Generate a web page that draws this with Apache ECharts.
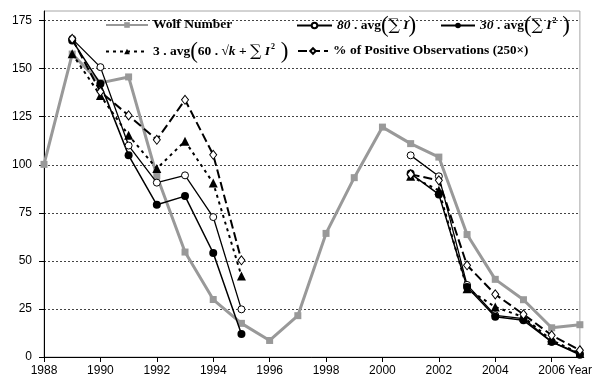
<!DOCTYPE html>
<html>
<head>
<meta charset="utf-8">
<script src="https://cdn.jsdelivr.net/npm/echarts@6/dist/echarts.min.js"></script>
<style>
html,body{margin:0;padding:0;background:#fff;}
#c{width:595px;height:379px;}
</style>
</head>
<body>
<div id="c"></div>
<script>
const years = [1988,1989,1990,1991,1992,1993,1994,1995,1996,1997,1998,1999,2000,2001,2002,2003,2004,2005,2006,2007];
const wolf =   [100.2,157.6,142.6,145.7,94.3,54.6,29.9,17.5,8.6,21.5,64.3,93.3,119.6,111.0,104.0,63.7,40.4,29.8,15.2,16.8];
const avgI80 = [null,165.5,150.8,110,90.7,94.5,72.8,24.8,null,null,null,null,null,104.9,94.0,37.5,21.7,20.0,7.9,1.8];
const avgI2_30=[null,164.7,142.1,104.9,79.2,83.7,54.1,12.0,null,null,null,null,null,95.4,84.6,36.4,20.9,19.1,7.9,1.2];
const avgK3 =  [null,157.7,136.0,115.3,98.0,112.3,90.5,42.2,null,null,null,null,null,94.0,86.7,35.5,26.0,20.8,8.7,1.8];
const posObs = [null,165.5,138,125.7,113.0,133.8,105.2,50.3,null,null,null,null,null,95.0,91.9,47.7,32.6,22.2,11.3,3.5];
const xLabelValues = [1988,1990,1992,1994,1996,1998,2000,2002,2004,2006,2007];
const xTickValues = [1988,1990,1992,1994,1996,1998,2000,2002,2004,2006];
const yTickValues = [0,25,50,75,100,125,150,175];

const names = ['Wolf Number','80 . avg(\u2211 I)','30 . avg(\u2211 I\u00B2)','3 . avg(60 . \u221Ak + \u2211 I\u00B2)','% of Positive Observations (250\u00D7)'];
const legendText = {};
legendText[names[0]] = '{b|Wolf Number}';
legendText[names[1]] = '{bi|80}{b| . avg}{p|(}{s|\u2211}{bi| I}{p|)}';
legendText[names[2]] = '{bi|30}{b| . avg}{p|(}{s|\u2211}{bi| I}{sup|2}{p| )}';
legendText[names[3]] = '{b|3 . avg}{p|(}{b|60 . \u221A}{bi|k}{b| + }{s|\u2211}{bi| I}{sup|2}{p| )}';
legendText[names[4]] = '{b|% of Positive Observations }{n|(250\u00D7)}';

const rich = {
  b:{fontFamily:'Liberation Serif',fontWeight:'bold',fontSize:13.5,color:'#000'},
  bi:{fontFamily:'Liberation Serif',fontWeight:'bold',fontStyle:'italic',fontSize:13.5,color:'#000'},
  n:{fontFamily:'Liberation Serif',fontWeight:'bold',fontSize:13,color:'#000'},
  p:{fontFamily:'Liberation Serif',fontSize:23,color:'#000'},
  s:{fontFamily:'DejaVu Serif',fontSize:16,color:'#000'},
  sup:{fontFamily:'Liberation Serif',fontWeight:'bold',fontSize:8,color:'#000',verticalAlign:'top',padding:[2,0,0,1]}
};

function pairs(vals){ return years.map((y,i)=>[y, vals[i]]); }

function mkLegend(name,left,top,w){
  return {data:[name],left:left,top:top,itemWidth:w,itemHeight:7,itemGap:0,padding:0,
    formatter:(n)=>legendText[n],textStyle:{rich:rich,lineHeight:22}};
}

const chart = echarts.init(document.getElementById('c'),null,{renderer:'canvas'});
chart.setOption({
  animation:false,
  backgroundColor:'#fff',
  grid:{left:44,right:14,top:11,bottom:22,show:true,borderColor:'#a6a6a6',borderWidth:1,backgroundColor:'transparent'},
  legend:[
    mkLegend(names[0],105,14,42),
    mkLegend(names[1],296,14,35),
    mkLegend(names[2],440,14,34),
    mkLegend(names[3],105,40,42),
    mkLegend(names[4],297,40,30)
  ],
  xAxis:{type:'value',min:1988,max:2007,interval:1,
    axisLine:{lineStyle:{color:'#000',width:1}},
    axisTick:{customValues:xTickValues,length:5,lineStyle:{color:'#000'}},
    axisLabel:{customValues:xLabelValues,margin:8,color:'#000',fontFamily:'Liberation Sans',fontSize:12,
      formatter:(v)=> v===2007 ? 'Year' : String(v)},
    splitLine:{show:false}},
  yAxis:{type:'value',min:0,max:180,interval:25,
    axisLine:{show:true,lineStyle:{color:'#000',width:1}},
    axisTick:{show:true,customValues:yTickValues,length:5,lineStyle:{color:'#000'}},
    axisLabel:{customValues:yTickValues,margin:12,color:'#000',fontFamily:'Liberation Sans',fontSize:12},
    splitLine:{show:true,lineStyle:{color:'#444',type:[2,2],width:1}}},
  series:[
    {name:names[0],type:'line',data:pairs(wolf),symbol:'rect',symbolSize:7,
      lineStyle:{color:'#999',width:3},itemStyle:{color:'#999'},z:2},
    {name:names[1],type:'line',data:pairs(avgI80),symbol:'circle',symbolSize:7,
      lineStyle:{color:'#000',width:1.3},itemStyle:{color:'#fff',borderColor:'#000',borderWidth:1},z:3},
    {name:names[2],type:'line',data:pairs(avgI2_30),symbol:'circle',symbolSize:8,
      lineStyle:{color:'#000',width:1.5},itemStyle:{color:'#000'},z:3},
    {name:names[3],type:'line',data:pairs(avgK3),symbol:'triangle',symbolSize:9,
      lineStyle:{color:'#000',width:2,type:[3,4]},itemStyle:{color:'#000'},z:3},
    {name:names[4],type:'line',data:pairs(posObs),symbol:'diamond',symbolSize:[7,9],
      lineStyle:{color:'#000',width:2,type:[9,4]},itemStyle:{color:'#fff',borderColor:'#000',borderWidth:1},z:3}
  ]
});
</script>
</body>
</html>
